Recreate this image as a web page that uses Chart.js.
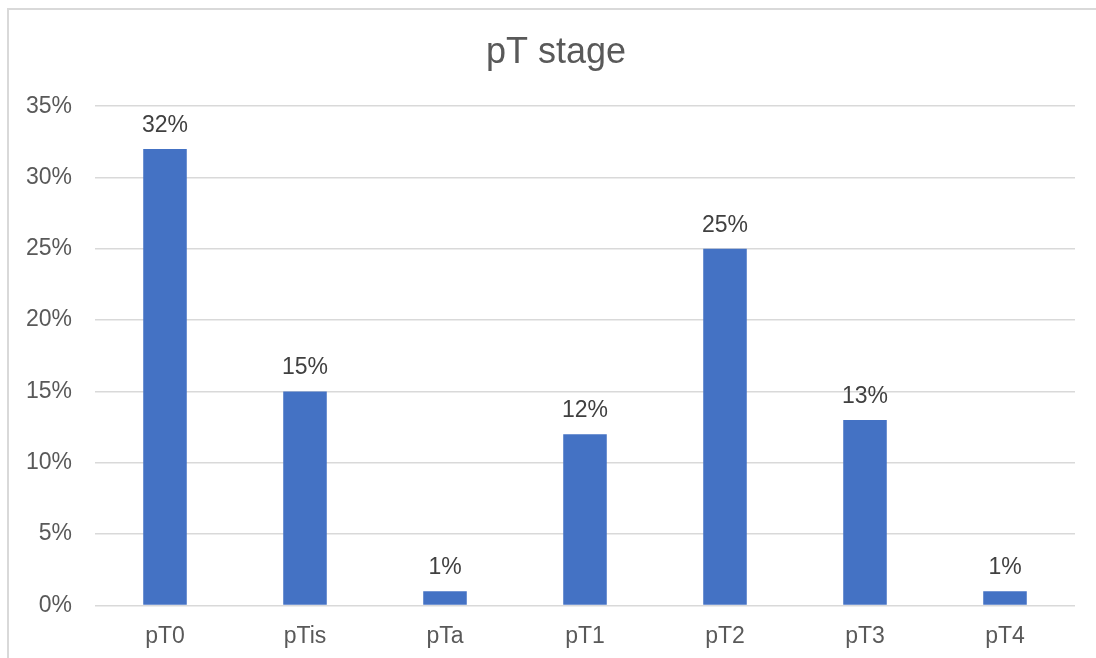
<!DOCTYPE html>
<html>
<head>
<meta charset="utf-8">
<title>pT stage</title>
<script src="https://cdn.jsdelivr.net/npm/chart.js@4/dist/chart.umd.min.js"></script>
<style>
  html, body { margin: 0; padding: 0; background: #ffffff; overflow: hidden; }
  #chart { position: absolute; left: 0; top: 0; display: block; }
  #frame {
    position: absolute; left: 7px; top: 8px;
    width: 1110px; height: 670px;
    border: 2px solid #d9d9d9; background: transparent;
    pointer-events: none;
  }
</style>
</head>
<body>
<canvas id="chart" width="1112" height="670"></canvas>
<div id="frame"></div>
<script>
// Pathological T stage distribution (share of patients, %)
const categories = ['pT0', 'pTis', 'pTa', 'pT1', 'pT2', 'pT3', 'pT4'];
const shares = [32, 15, 1, 12, 25, 13, 1];
const yTicks = [0, 5, 10, 15, 20, 25, 30, 35];

const FONT = '"Liberation Sans", Arial, Helvetica, sans-serif';

// Writes the percentage above each bar
const valueLabels = {
  id: 'valueLabels',
  afterDatasetsDraw(chart) {
    const ctx = chart.ctx;
    const meta = chart.getDatasetMeta(0);
    ctx.save();
    ctx.font = '23px ' + FONT;
    ctx.fillStyle = '#404040';
    ctx.textAlign = 'center';
    ctx.textBaseline = 'alphabetic';
    meta.data.forEach((bar, i) => {
      const v = chart.data.datasets[0].data[i];
      ctx.fillText(v + '%', bar.x, bar.y - 17);
    });
    ctx.restore();
  }
};

// The y axis box is kept narrow (so the title stays centred on the frame);
// let its labels spill into the left margin instead of being clipped.
const axisLabelRoom = {
  id: 'axisLabelRoom',
  afterLayout(chart) { chart.scales.y.left = 0; }
};

new Chart(document.getElementById('chart'), {
  type: 'bar',
  data: {
    labels: categories,
    datasets: [{
      data: shares,
      backgroundColor: '#4472C4',
      borderWidth: 0,
      categoryPercentage: 1,
      barPercentage: 0.311
    }]
  },
  options: {
    responsive: false,
    devicePixelRatio: 1,
    animation: false,
    layout: { padding: { left: 37, right: 37, top: 0, bottom: 3 } },
    plugins: {
      legend: { display: false },
      tooltip: { enabled: false },
      title: {
        display: true,
        text: 'pT stage',
        color: '#595959',
        font: { family: FONT, size: 36, weight: 'normal' },
        padding: { top: 31, bottom: 32 }
      }
    },
    scales: {
      x: {
        grid: { display: false, drawTicks: false },
        border: { display: false },
        ticks: { color: '#595959', font: { family: FONT, size: 23 }, padding: 17 }
      },
      y: {
        min: 0,
        max: 35,
        afterBuildTicks(scale) { scale.ticks = yTicks.map(v => ({ value: v })); },
        afterFit(scale) { scale.width = 58; },
        grid: { color: '#d9d9d9', lineWidth: 1.4, drawTicks: false },
        border: { display: false },
        ticks: {
          color: '#595959',
          font: { family: FONT, size: 23 },
          padding: 23,
          callback: v => v + '%'
        }
      }
    }
  },
  plugins: [valueLabels, axisLabelRoom]
});
</script>
</body>
</html>
